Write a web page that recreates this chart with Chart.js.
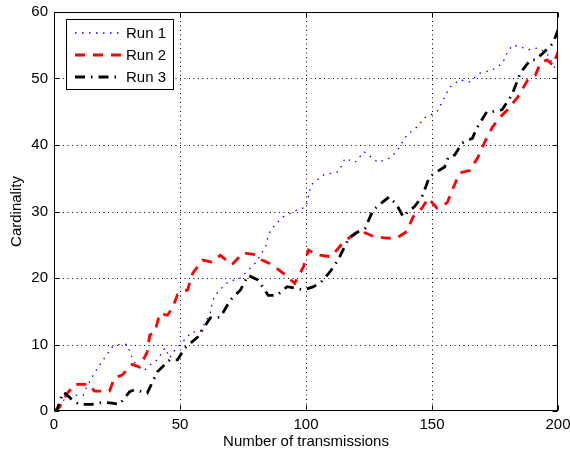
<!DOCTYPE html>
<html><head><meta charset="utf-8">
<script src="https://cdn.jsdelivr.net/npm/chart.js@4/dist/chart.umd.min.js"></script>
<style>html,body{margin:0;padding:0;background:#fff}#wrap{width:570px;height:449px}</style>
</head><body><div id="wrap"><canvas id="c" width="570" height="449"></canvas></div>
<script>
const seriesNames = ['Run 1', 'Run 2', 'Run 3'];
const xTicks = [0, 50, 100, 150, 200];
const yTicks = [0, 10, 20, 30, 40, 50, 60];

const run1X = [0, 2, 5, 8, 11.6, 13, 16, 19.5, 23, 26, 29, 31, 33, 36, 38, 41, 44, 46, 48, 52.6, 54.7, 58, 62, 63, 65, 69, 74, 76.6, 80, 82, 84, 84.5, 86, 88.5, 91, 95, 100, 102, 107, 113, 115.5, 119.5, 123, 128.6, 133, 136, 140, 145, 146.5, 152, 154.5, 157, 161, 165, 169, 174, 178, 180, 182, 185, 188, 192, 195.6, 199.6];
const run1Y = [0, 1, 2, 2.4, 2.4, 3.6, 5.7, 7.7, 9.6, 10, 10, 8, 6.6, 6.2, 6.9, 7.7, 9.5, 8, 9.2, 11, 11.9, 11.9, 14.7, 16.7, 17.9, 19.4, 20, 21, 22.3, 23.5, 24.7, 25.7, 27.2, 28.3, 29.2, 30, 30.7, 34, 35.5, 36, 38, 37.4, 39, 37.4, 38, 39, 41.5, 43, 44, 45, 46.8, 48.7, 49.8, 49.5, 50.8, 51.3, 52.3, 54, 55, 54.8, 54.3, 54.6, 53.8, 51];

const run2X = [0, 2, 5, 8, 12, 14, 16, 22, 24, 27, 31, 34, 37, 38, 40, 42, 45, 47, 49, 51, 53, 55, 59, 62.6, 66, 70.6, 75, 80, 82.5, 86.5, 91, 92.5, 95.5, 99, 101, 104, 110, 114, 117, 120, 123.5, 127, 132, 136, 140, 142.5, 146, 148.5, 152, 156, 158, 161, 165, 168, 171, 174, 177, 180, 184, 188, 191, 193, 195.6, 198, 200];
const run2Y = [0, 0.5, 2.5, 4, 4, 4, 3, 3, 5, 5.4, 7, 6.6, 8.9, 11.4, 11.9, 14.7, 14.4, 15.5, 17.5, 17.9, 18.2, 20.7, 22.7, 22.4, 23.4, 22, 23.8, 23.5, 22.7, 22, 20.7, 20.2, 19.2, 21.7, 24.2, 23.5, 23.2, 25, 26, 26.8, 26.8, 26.2, 26, 26, 27, 29.2, 30.5, 32, 30.5, 31.3, 33.2, 35.8, 36.2, 38, 40.5, 42.7, 44.2, 45.3, 47.2, 49.8, 50.5, 52.3, 52.8, 52, 54];

const run3X = [0, 1, 3.6, 5, 7.7, 10, 15, 19.5, 23, 26, 30, 32, 37, 41, 46, 49, 52, 57, 62, 66, 70, 74, 77, 81, 85, 88.5, 92.5, 95.6, 99, 103, 106, 109.5, 112.7, 117, 120, 123.5, 126.6, 130, 133, 136, 138.6, 140.5, 143, 146, 149, 152, 155, 156.5, 159, 162, 166, 168, 171.8, 174, 177.8, 181.7, 185, 189, 191, 194, 198, 200];
const run3Y = [0, 0, 2.8, 2.5, 1.5, 1, 1, 1.3, 1.2, 1, 2.9, 3.2, 2.7, 5.9, 7.7, 7.7, 9.5, 11.1, 14, 14.1, 16.7, 18.2, 20.4, 19.7, 17.4, 17.4, 18.7, 18.5, 18.2, 18.7, 19.4, 20.9, 22.7, 26, 26.8, 27.5, 30.2, 31.3, 32.2, 31, 29.2, 30, 30.7, 32.2, 35.2, 36, 36.7, 38.2, 38.5, 40.3, 41, 42.7, 45, 45, 45.3, 47.5, 50.8, 52.8, 52.8, 53.8, 55.3, 57.3];

const pts = (xs, ys) => xs.map((x, i) => ({x: x, y: ys[i]}));
const FONT = '"Liberation Sans", Arial, Helvetica, sans-serif';

const framePlugin = {
  id: 'frame',
  beforeDatasetsDraw(chart) {
    const {ctx, chartArea: a, scales: {x, y}} = chart;
    ctx.save();
    ctx.strokeStyle = '#000';
    ctx.lineWidth = 1;
    ctx.setLineDash([1, 3.5]);
    xTicks.forEach(v => {
      if (v === xTicks[0] || v === xTicks[xTicks.length - 1]) return;
      const px = Math.round(x.getPixelForValue(v)) + 0.5;
      ctx.beginPath(); ctx.moveTo(px, a.top); ctx.lineTo(px, a.bottom); ctx.stroke();
    });
    yTicks.forEach(v => {
      if (v === yTicks[0] || v === yTicks[yTicks.length - 1]) return;
      const py = Math.round(y.getPixelForValue(v)) + 0.5;
      ctx.beginPath(); ctx.moveTo(a.left, py); ctx.lineTo(a.right, py); ctx.stroke();
    });
    ctx.restore();
  },
  afterDatasetsDraw(chart) {
    const {ctx, chartArea: a, scales: {x, y}} = chart;
    ctx.save();
    ctx.strokeStyle = '#000';
    ctx.lineWidth = 1;
    ctx.setLineDash([]);
    const L = Math.round(a.left) + 0.5, R = Math.round(a.right) - 0.5;
    const T = Math.round(a.top) + 0.5, B = Math.round(a.bottom) - 0.5;
    ctx.strokeRect(L, T, R - L, B - T);
    const tl = 5;
    xTicks.forEach(v => {
      const px = Math.round(x.getPixelForValue(v)) + 0.5;
      ctx.beginPath(); ctx.moveTo(px, B); ctx.lineTo(px, B - tl); ctx.stroke();
      ctx.beginPath(); ctx.moveTo(px, T); ctx.lineTo(px, T + tl); ctx.stroke();
    });
    yTicks.forEach(v => {
      const py = Math.round(y.getPixelForValue(v)) + 0.5;
      ctx.beginPath(); ctx.moveTo(L, py); ctx.lineTo(L + tl, py); ctx.stroke();
      ctx.beginPath(); ctx.moveTo(R, py); ctx.lineTo(R - tl, py); ctx.stroke();
    });
    // legend
    const lx = 66.5, ly = 19.5, lw = 107, lh = 70;
    ctx.fillStyle = '#fff';
    ctx.fillRect(lx, ly, lw, lh);
    ctx.strokeRect(lx, ly, lw, lh);
    ctx.font = '15px ' + FONT;
    ctx.textBaseline = 'middle';
    ctx.textAlign = 'left';
    chart.data.datasets.forEach((ds, i) => {
      const yy = 33 + i * 22;
      ctx.save();
      ctx.strokeStyle = ds.borderColor;
      ctx.lineWidth = ds.borderWidth;
      ctx.setLineDash(ds.borderDash || []);
      ctx.beginPath(); ctx.moveTo(75, yy); ctx.lineTo(122, yy); ctx.stroke();
      ctx.restore();
      ctx.fillStyle = '#000';
      ctx.fillText(ds.label, 126, yy + 1);
    });
    ctx.restore();
  }
};

new Chart(document.getElementById('c'), {
  type: 'line',
  data: {
    datasets: [
      {label: seriesNames[0], data: pts(run1X, run1Y), borderColor: '#0000ff', borderWidth: 1.3, borderDash: [1.5, 5.5], order: 3},
      {label: seriesNames[1], data: pts(run2X, run2Y), borderColor: '#ff0000', borderWidth: 2.8, borderDash: [10, 8], order: 2},
      {label: seriesNames[2], data: pts(run3X, run3Y), borderColor: '#000000', borderWidth: 2.8, borderDash: [10, 6, 1.5, 6], order: 1}
    ]
  },
  options: {
    responsive: false,
    animation: false,
    devicePixelRatio: 1,
    layout: {padding: {left: 0, top: 12, right: 12, bottom: 0}},
    elements: {point: {radius: 0}, line: {tension: 0, fill: false}},
    plugins: {legend: {display: false}, tooltip: {enabled: false}},
    scales: {
      x: {
        type: 'linear', min: 0, max: 200,
        afterBuildTicks: s => { s.ticks = xTicks.map(v => ({value: v})); },
        afterFit: s => { s.height = 38; s.paddingLeft = 0; s.paddingRight = 0; },
        grid: {display: false, drawTicks: false},
        border: {display: false},
        ticks: {color: '#000', font: {family: FONT, size: 15}, padding: 5, maxRotation: 0},
        title: {display: true, text: 'Number of transmissions', color: '#000', font: {family: FONT, size: 15}, padding: {top: 0, bottom: -2}}
      },
      y: {
        type: 'linear', min: 0, max: 60,
        afterBuildTicks: s => { s.ticks = yTicks.map(v => ({value: v})); },
        afterFit: s => { s.width = 54; s.paddingTop = 0; s.paddingBottom = 0; },
        grid: {display: false, drawTicks: false},
        border: {display: false},
        ticks: {color: '#000', font: {family: FONT, size: 15}, padding: 6},
        title: {display: true, text: 'Cardinality', color: '#000', font: {family: FONT, size: 15}, padding: {top: 8, bottom: 0}}
      }
    }
  },
  plugins: [framePlugin]
});
</script></body></html>
